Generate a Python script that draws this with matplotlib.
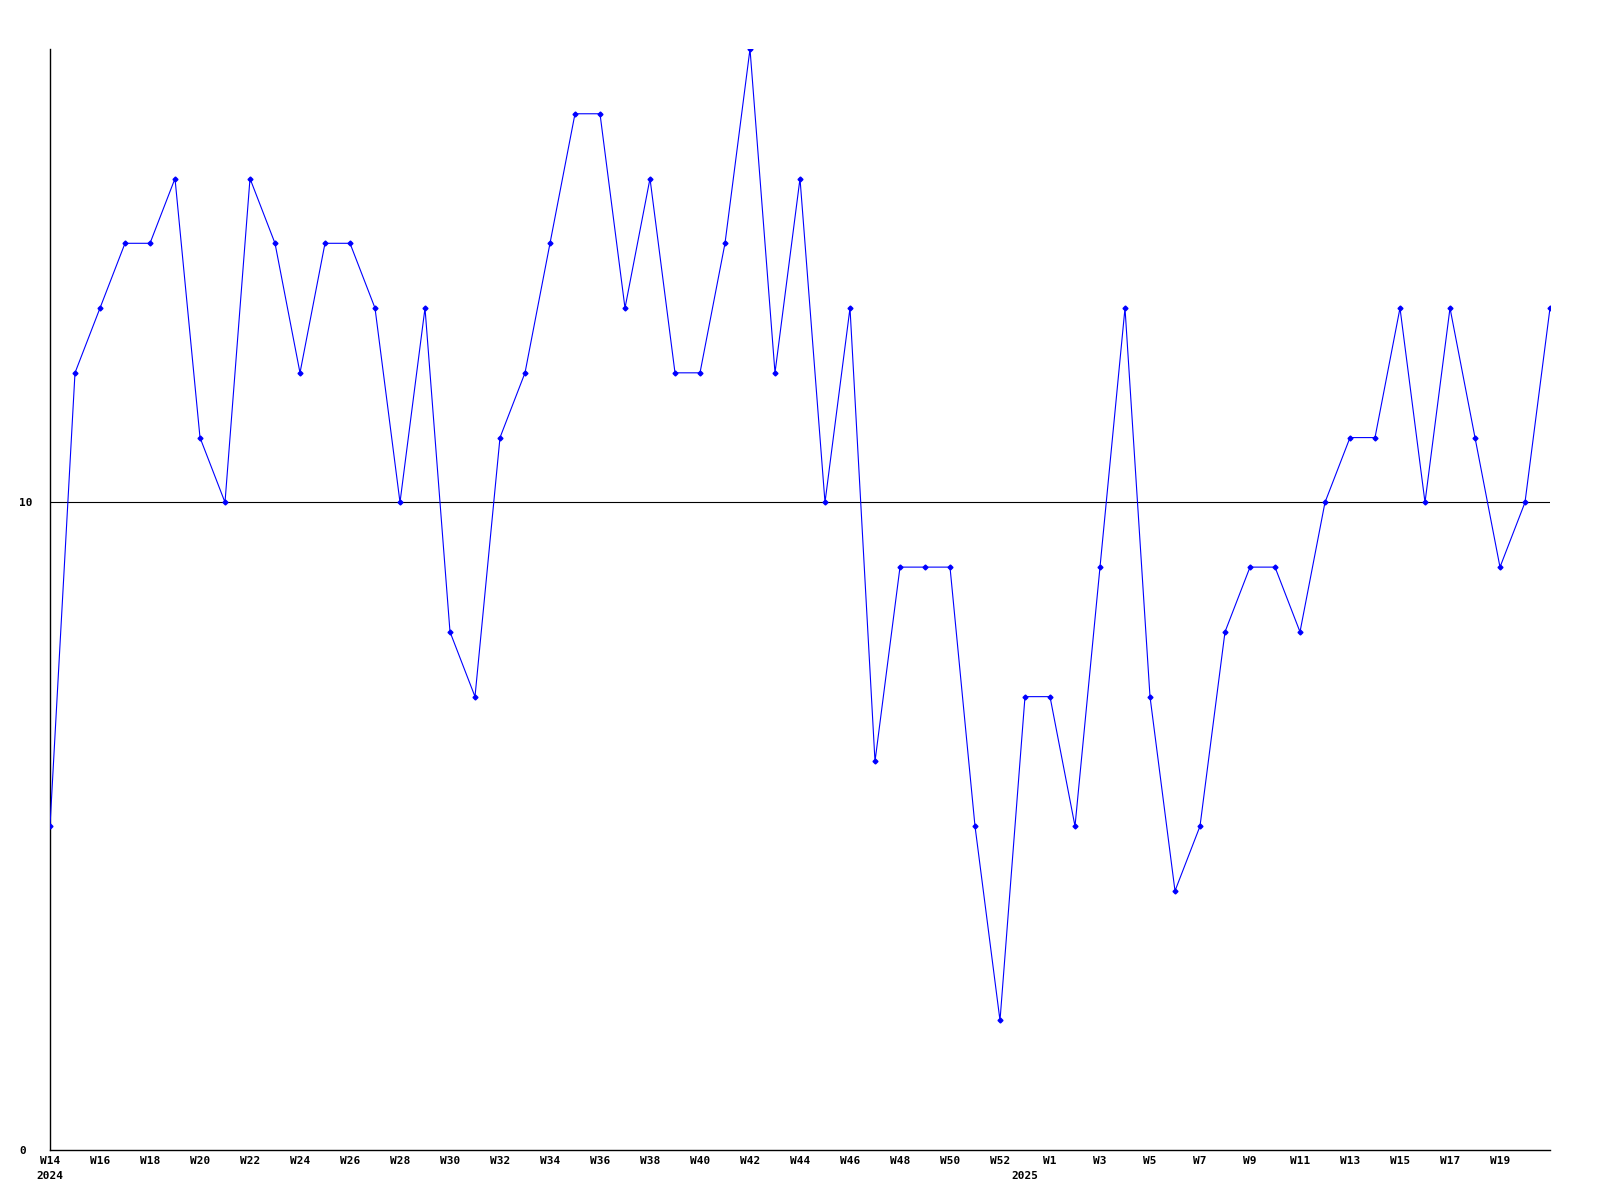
import matplotlib
matplotlib.use("Agg")
import matplotlib.pyplot as plt
import matplotlib.transforms as mtransforms

weeks = ([f"W{w}" for w in range(14, 53)] + ["W0"] + [f"W{w}" for w in range(1, 22)])
values = [5, 12, 13, 14, 14, 15, 11, 10, 15, 14, 12, 14, 14, 13, 10, 13, 8, 7, 11, 12,
          14, 16, 16, 13, 15, 12, 12, 14, 17, 12, 15, 10, 13, 6, 9, 9, 9, 5, 2,
          7, 7, 5, 9, 13, 7, 4, 5, 8, 9, 9, 8, 10, 11, 11, 13, 10, 13, 11, 9, 10, 13]
year_labels = {0: "2024", 39: "2025"}
ref_value = 10
y_max = 17

fig = plt.figure(figsize=(16, 12), dpi=100)
ax = fig.add_axes([50/1600, 1 - 1150/1200, 1500/1600, 1101/1200])
x = list(range(len(values)))
ax.plot(x, values, color=(0, 0, 1), lw=0.8, marker='D', markersize=2.5, zorder=3)
ax.axhline(ref_value, color='black', lw=0.8, zorder=2)
ax.set_xlim(0, len(values) - 1)
ax.set_ylim(0, y_max)
for s in ['top', 'right']:
    ax.spines[s].set_visible(False)
for s in ['left', 'bottom']:
    ax.spines[s].set_linewidth(1.0)

font = dict(family='DejaVu Sans Mono', weight='bold', size=8)
tick_idx = [i for i in x if i % 2 == 0 and i < len(values) - 1]
ax.set_xticks(tick_idx)
ax.set_xticklabels([weeks[i] for i in tick_idx], fontdict=font)
ax.tick_params(axis='x', length=0, pad=4)
ax.set_yticks([0, 10])
ax.set_yticklabels(["0", "10"], fontdict=font, ha='left')
ax.tick_params(axis='y', length=0, pad=22)

trans = mtransforms.blended_transform_factory(ax.transData, ax.transAxes)
for i, lab in year_labels.items():
    ax.text(i, -0.019, lab, transform=trans, ha='center', va='top', fontdict=font)

fig.savefig("out.png", dpi=100)
